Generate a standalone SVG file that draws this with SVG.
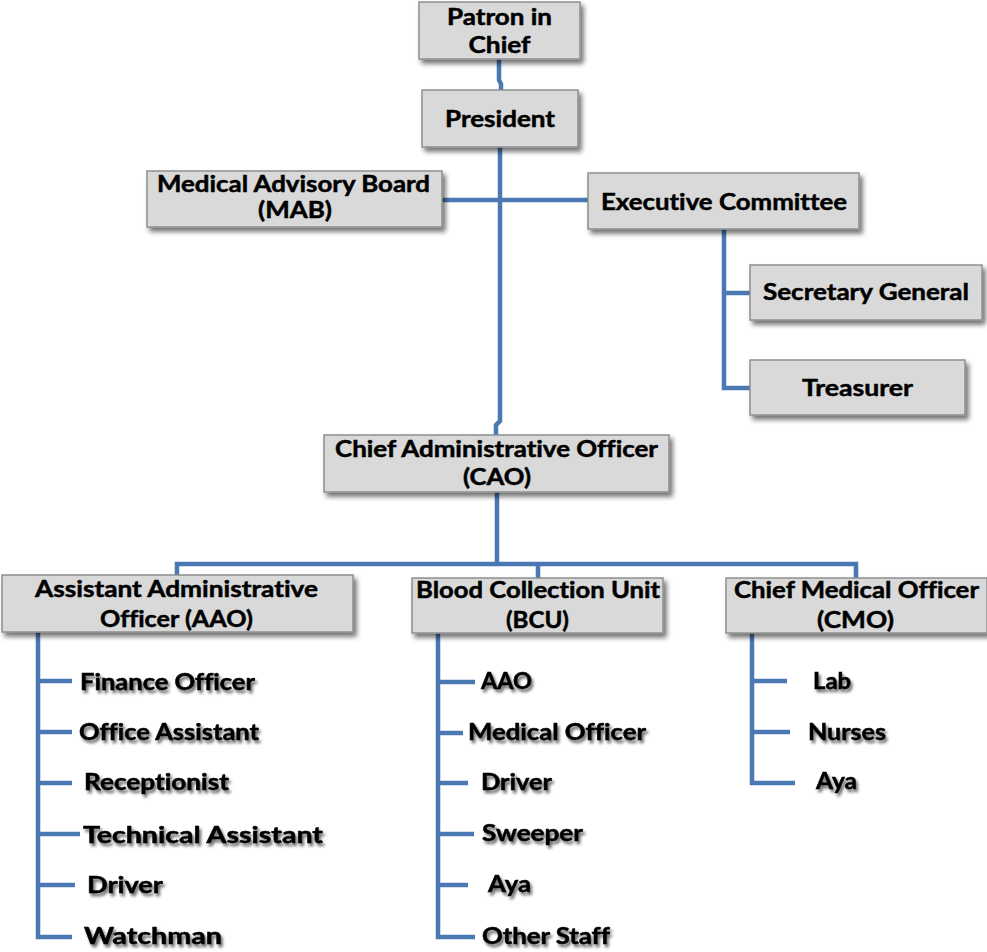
<svg xmlns="http://www.w3.org/2000/svg" width="987" height="952" viewBox="0 0 987 952">
<defs>
<filter id="boxsh" x="-10%" y="-20%" width="125%" height="160%">
<feGaussianBlur in="SourceAlpha" stdDeviation="2.5"/>
<feOffset dx="3" dy="4" result="b"/>
<feComponentTransfer><feFuncA type="linear" slope="0.55"/></feComponentTransfer>
<feMerge><feMergeNode/><feMergeNode in="SourceGraphic"/></feMerge>
</filter>
<filter id="txtsh" x="-10%" y="-30%" width="125%" height="170%">
<feGaussianBlur in="SourceAlpha" stdDeviation="1.8"/>
<feOffset dx="2" dy="2.5" result="b"/>
<feComponentTransfer><feFuncA type="linear" slope="0.6"/></feComponentTransfer>
<feMerge><feMergeNode/><feMergeNode in="SourceGraphic"/></feMerge>
</filter>
</defs>
<style>
.box{fill:#d9d9d9;stroke:#8e8e8e;stroke-width:1.5;filter:url(#boxsh)}
.t{font-family:Lato,"Open Sans","Liberation Sans",sans-serif;font-weight:bold;font-size:23px;fill:#000;stroke:#000;stroke-width:0.5;font-variant-ligatures:none}
.c{text-anchor:middle}
.sh{filter:url(#txtsh)}
.ln{fill:none;stroke:#4a78b3;stroke-width:4.5;stroke-linejoin:miter}
</style>
<rect width="987" height="952" fill="#ffffff"/>
<g id="connectors">
<path class="ln" d="M499 59 V80 L501 84 V90"/>
<path class="ln" d="M500 147 V421 L496 425 V435"/>
<path class="ln" d="M442 200 H588"/>
<path class="ln" d="M724 229 V388 H751 M724 293 H751"/>
<path class="ln" d="M497 492 V564 M177 575 V564 H856 V578 M538 564 V578"/>
<path class="ln" d="M38 632 V937 H72 M38 681 H72 M38 732 H72 M38 783 H72 M38 834 H80 M38 885 H75"/>
<path class="ln" d="M438 633 V937 H475 M438 682 H475 M438 733 H463 M438 783 H468 M438 834 H474 M438 885 H468"/>
<path class="ln" d="M752 633 V783 H795 M752 681 H787 M752 732 H790"/>
</g>
<g id="patron">
<rect class="box" x="419" y="2" width="161" height="57"/>
<text class="t c" x="499.5" y="25" textLength="105" lengthAdjust="spacingAndGlyphs" font-size="25">Patron in</text>
<text class="t c" x="499.5" y="53" textLength="62" lengthAdjust="spacingAndGlyphs" font-size="25">Chief</text>
</g>
<g id="president">
<rect class="box" x="422" y="90" width="156" height="57"/>
<text class="t c" x="500" y="127" textLength="110" lengthAdjust="spacingAndGlyphs" font-size="24">President</text>
</g>
<g id="mab">
<rect class="box" x="147" y="171" width="295" height="56"/>
<text class="t c" x="293.5" y="192" textLength="273" lengthAdjust="spacingAndGlyphs" font-size="24">Medical Advisory Board</text>
<text class="t c" x="295" y="218" textLength="74" lengthAdjust="spacingAndGlyphs" font-size="24">(MAB)</text>
</g>
<g id="exec">
<rect class="box" x="588" y="173" width="271" height="56"/>
<text class="t c" x="724" y="210" textLength="246" lengthAdjust="spacingAndGlyphs" font-size="24">Executive Committee</text>
</g>
<g id="secgen">
<rect class="box" x="750" y="265" width="232" height="55"/>
<text class="t c" x="866" y="300" textLength="206" lengthAdjust="spacingAndGlyphs" font-size="24">Secretary General</text>
</g>
<g id="treasurer">
<rect class="box" x="750" y="360" width="215" height="55"/>
<text class="t c" x="857.5" y="396" textLength="111" lengthAdjust="spacingAndGlyphs" font-size="24">Treasurer</text>
</g>
<g id="cao">
<rect class="box" x="324" y="435" width="345" height="57"/>
<text class="t c" x="496.5" y="457" textLength="323" lengthAdjust="spacingAndGlyphs" font-size="24">Chief Administrative Officer</text>
<text class="t c" x="497" y="485" textLength="68" lengthAdjust="spacingAndGlyphs" font-size="24">(CAO)</text>
</g>
<g id="aao">
<rect class="box" x="2" y="575" width="351" height="57"/>
<text class="t c" x="176.5" y="597" textLength="283" lengthAdjust="spacingAndGlyphs" font-size="24">Assistant Administrative</text>
<text class="t c" x="176.5" y="627" textLength="153" lengthAdjust="spacingAndGlyphs" font-size="24">Officer (AAO)</text>
</g>
<g id="bcu">
<rect class="box" x="412" y="578" width="251" height="55"/>
<text class="t c" x="538" y="598" textLength="244" lengthAdjust="spacingAndGlyphs" font-size="24">Blood Collection Unit</text>
<text class="t c" x="537.5" y="628" textLength="63" lengthAdjust="spacingAndGlyphs" font-size="24">(BCU)</text>
</g>
<g id="cmo">
<rect class="box" x="726" y="578" width="261" height="55"/>
<text class="t c" x="856.5" y="598" textLength="245" lengthAdjust="spacingAndGlyphs" font-size="24">Chief Medical Officer</text>
<text class="t c" x="855.5" y="628" textLength="77" lengthAdjust="spacingAndGlyphs" font-size="24">(CMO)</text>
</g>
<g id="aao-staff" class="sh">
<text class="t" x="80" y="690" textLength="175" lengthAdjust="spacingAndGlyphs">Finance Officer</text>
<text class="t" x="79" y="740" textLength="180" lengthAdjust="spacingAndGlyphs">Office Assistant</text>
<text class="t" x="84" y="790" textLength="145" lengthAdjust="spacingAndGlyphs">Receptionist</text>
<text class="t" x="83" y="843" textLength="240" lengthAdjust="spacingAndGlyphs" font-size="26">Technical Assistant</text>
<text class="t" x="87" y="893" textLength="76" lengthAdjust="spacingAndGlyphs" font-size="24">Driver</text>
<text class="t" x="84" y="944" textLength="138" lengthAdjust="spacingAndGlyphs" font-size="25">Watchman</text>
</g>
<g id="bcu-staff" class="sh">
<text class="t" x="481" y="689" textLength="51" lengthAdjust="spacingAndGlyphs">AAO</text>
<text class="t" x="468" y="740" textLength="178" lengthAdjust="spacingAndGlyphs">Medical Officer</text>
<text class="t" x="481" y="790" textLength="71" lengthAdjust="spacingAndGlyphs">Driver</text>
<text class="t" x="482" y="841" textLength="101" lengthAdjust="spacingAndGlyphs">Sweeper</text>
<text class="t" x="488" y="892" textLength="43" lengthAdjust="spacingAndGlyphs">Aya</text>
<text class="t" x="482" y="944" textLength="128" lengthAdjust="spacingAndGlyphs">Other Staff</text>
</g>
<g id="cmo-staff" class="sh">
<text class="t" x="813" y="689" textLength="38" lengthAdjust="spacingAndGlyphs">Lab</text>
<text class="t" x="808" y="740" textLength="78" lengthAdjust="spacingAndGlyphs">Nurses</text>
<text class="t" x="816" y="789" textLength="41" lengthAdjust="spacingAndGlyphs">Aya</text>
</g>
</svg>
